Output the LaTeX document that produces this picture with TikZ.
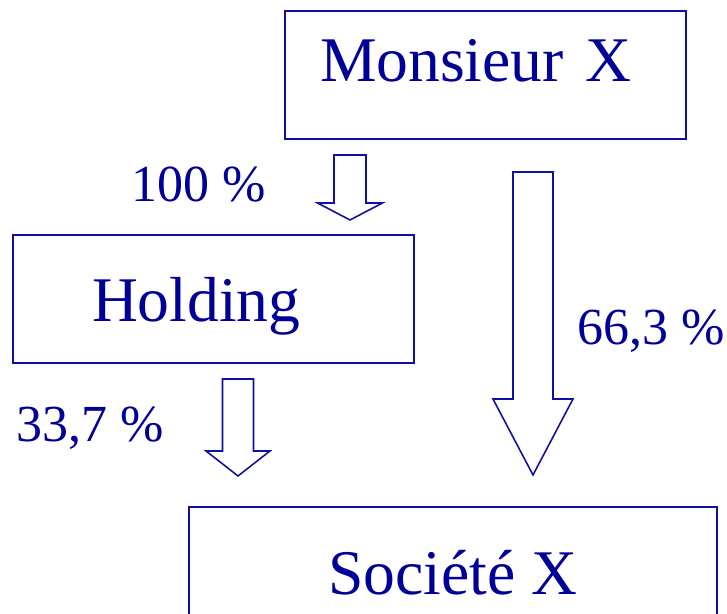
\documentclass[tikz,border=0pt]{standalone}
\usepackage{fontspec}
\setmainfont{Liberation Serif}
\usepackage{xcolor}
\definecolor{xblue}{HTML}{1010A0}
\definecolor{xtext}{HTML}{000099}
\usetikzlibrary{positioning,calc}
\newcommand{\bigfont}{\fontsize{36.2}{40}\selectfont}
\newcommand{\pctfont}{\fontsize{29.6}{34}\selectfont}
\tikzset{
  entbox/.style={
    draw=xblue, line width=1.1pt, text=xtext,
    minimum width=8.02cm, minimum height=2.56cm,
    inner ysep=0pt, outer sep=0pt, font=\bigfont
  },
  pctlabel/.style={
    text=xtext, font=\pctfont, inner sep=0pt, anchor=base west
  },
  blockarr/.style={draw=xblue, line width=0.9pt, fill=white, line join=miter}
}
% down block arrow: top, tip, stem half width, head half width, head length
\newcommand{\blockdown}[5]{%
  \draw[blockarr] ($(#1)+(-#3,0)$) -- ($(#1)+(#3,0)$)
    -- ($(#2)+(#3,#5)$) -- ($(#2)+(#4,#5)$) -- (#2)
    -- ($(#2)+(-#4,#5)$) -- ($(#2)+(-#3,#5)$) -- cycle;}

\begin{document}
\begin{tikzpicture}
  \useasboundingbox (0,0) rectangle (14.54,12.28);

  %% ---- Monsieur X ----
  \node[entbox, text width=6.62cm, inner xsep=0.70cm, align=left,
        text height=0.9cm, text depth=0.62cm] (mx) at (9.71,10.78) {Monsieur X};

  %% ---- Holding ----
  \node[entbox, text width=4.86cm, inner xsep=1.58cm, align=left,
        text height=1.2cm, text depth=0.28cm] (hd) at (4.27,6.30) {Holding};

  %% ---- Societe X ----
  \node[entbox, minimum width=10.56cm,
        text height=1.24cm, text depth=0.28cm] (sx) at (9.06,0.86) {Société X};

  %% Shares
  \coordinate (a1top) at ([xshift=1.3cm,yshift=-0.32cm]mx.south west);
  \coordinate (a1tip) at ([xshift=6.74cm,yshift=0.3cm]hd.north west);
  \blockdown{a1top}{a1tip}{0.32}{0.65}{0.34}

  \coordinate (a2top) at ([xshift=4.96cm,yshift=-0.66cm]mx.south west);
  \coordinate (a2tip) at ([xshift=6.88cm,yshift=0.64cm]sx.north west);
  \blockdown{a2top}{a2tip}{0.4}{0.8}{1.52}

  \coordinate (a3top) at ([xshift=4.5cm,yshift=-0.32cm]hd.south west);
  \coordinate (a3tip) at ([xshift=0.98cm,yshift=0.62cm]sx.north west);
  \blockdown{a3top}{a3tip}{0.31}{0.64}{0.5}

  \node[pctlabel] (p100) at (2.62,8.24) {100 \%};
  \node[pctlabel] (p663) at (11.54,5.38) {66,3 \%};
  \node[pctlabel] (p337) at (0.32,3.44) {33,7 \%};

\end{tikzpicture}
\end{document}
